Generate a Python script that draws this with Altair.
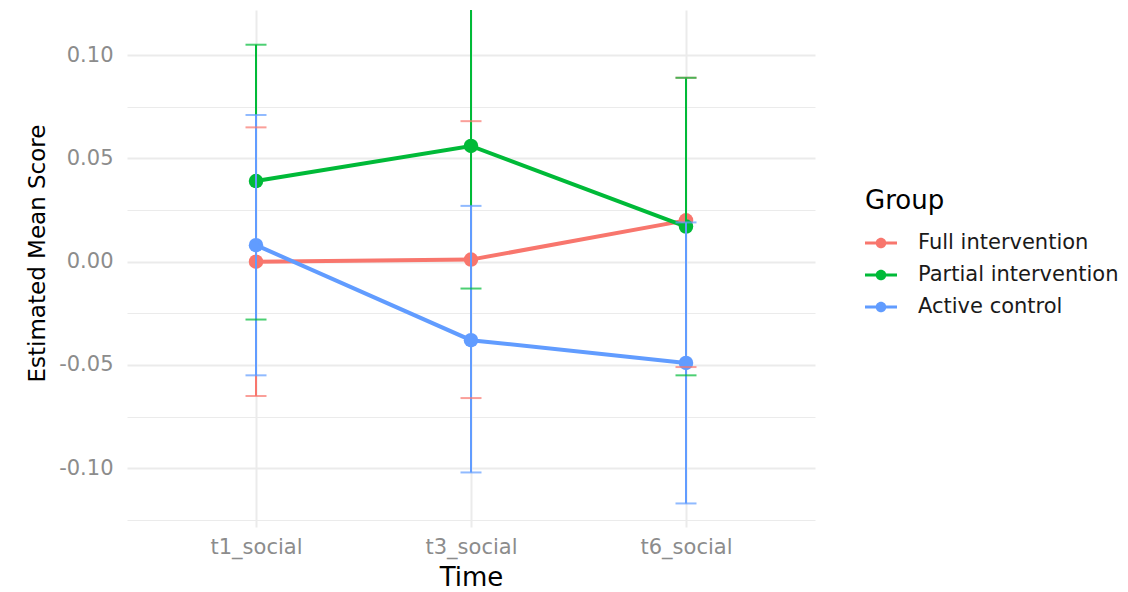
import altair as alt
import pandas as pd

times = ["t1_social", "t3_social", "t6_social"]
groups = ["Full intervention", "Partial intervention", "Active control"]
colors = ["#F8766D", "#00BA38", "#619CFF"]

full_mean = [0.000, 0.001, 0.020]
full_low = [-0.065, -0.066, -0.051]
full_high = [0.065, 0.068, 0.089]

partial_mean = [0.039, 0.056, 0.017]
partial_low = [-0.028, -0.013, -0.055]
partial_high = [0.105, 0.125, 0.089]

control_mean = [0.008, -0.038, -0.049]
control_low = [-0.055, -0.102, -0.117]
control_high = [0.071, 0.027, 0.019]

y_ticks = [-0.125, -0.1, -0.075, -0.05, -0.025, 0.0, 0.025, 0.05, 0.075, 0.1]

rows = []
for g, ms, los, his in zip(groups,
                           [full_mean, partial_mean, control_mean],
                           [full_low, partial_low, control_low],
                           [full_high, partial_high, control_high]):
    for t, m, lo, hi in zip(times, ms, los, his):
        rows.append({"Time": t, "Group": g, "mean": m, "low": lo, "high": hi})
df = pd.DataFrame(rows)

FONT = "DejaVu Sans"
YMIN, YMAX = -0.1284, 0.1218

major_test = "abs(datum.value*20 - round(datum.value*20)) < 0.001"

x_enc = alt.X(
    "Time:N",
    scale=alt.Scale(type="point", domain=times, padding=0.6),
    axis=alt.Axis(
        title="Time", grid=True, gridColor="#ebebeb", gridWidth=2,
        domain=False, ticks=False, tickSize=0, labelAngle=0,
        labelColor="#8c8c8c", labelFontSize=21, labelFont=FONT,
        labelPadding=9, titleFont=FONT, titleFontSize=26,
        titleFontWeight="normal", titleColor="#000000",
        titleBaseline="alphabetic", titleY=58,
    ),
)

y_scale = alt.Scale(domain=[YMIN, YMAX], nice=False, zero=False)
y_axis = alt.Axis(
    title="Estimated Mean Score", values=y_ticks,
    labelExpr=f"{major_test} ? ((datum.value < -0.0001 ? '-' : '') + format(abs(datum.value), '.2f')) : ''",
    grid=True, gridColor="#ebebeb",
    gridWidth={"condition": {"test": major_test, "value": 2}, "value": 1.2},
    domain=False, ticks=False, tickSize=0,
    labelColor="#8c8c8c", labelFontSize=21, labelFont=FONT, labelPadding=14,
    titleFont=FONT, titleFontSize=23, titleFontWeight="normal", titleColor="#000000",
    titleBaseline="alphabetic", titleX=-83, titleY=243, titleAlign="center", titleAngle=270,
)

legend_path = ("M-1,-0.09L1,-0.09L1,0.09L-1,0.09Z "
               "M0.33,0A0.33,0.33,0,1,1,-0.33,0A0.33,0.33,0,1,1,0.33,0Z")

color_scale = alt.Scale(domain=groups, range=colors)
color_leg = alt.Color(
    "Group:N",
    scale=color_scale,
    legend=alt.Legend(
        title="Group", orient="none", legendX=738, legendY=178,
        symbolType=legend_path, symbolSize=1024, labelOffset=21,
        symbolStrokeWidth=0, symbolOpacity=1, labelLimit=400,
        labelFont=FONT, labelFontSize=21, labelColor="#1a1a1a",
        titleFont=FONT, titleFontSize=26, titleFontWeight="normal",
        titleColor="#000000", titlePadding=13, rowPadding=6,
    ),
)

base = alt.Chart(df)

points = base.mark_point(filled=True, size=210, opacity=1, clip=True).encode(
    x=x_enc, y=alt.Y("mean:Q", scale=y_scale, axis=y_axis), color=color_leg,
)
lines = base.mark_line(strokeWidth=4, clip=True).encode(
    x=x_enc, y=alt.Y("mean:Q", scale=y_scale), color=color_leg,
    detail="Group:N",
)
rules = base.mark_rule(strokeWidth=2, clip=True).encode(
    x=x_enc, y=alt.Y("low:Q", scale=y_scale), y2="high:Q", color=color_leg,
)
caps_low = base.mark_tick(size=21, thickness=2, clip=True).encode(
    x=x_enc, y=alt.Y("low:Q", scale=y_scale), color=color_leg,
)
caps_high = base.mark_tick(size=21, thickness=2, clip=True).encode(
    x=x_enc, y=alt.Y("high:Q", scale=y_scale), color=color_leg,
)

chart = alt.layer(points, lines, rules, caps_low, caps_high).properties(
    width=688, height=517,
    background="white",
    autosize=alt.AutoSizeParams(type="none"),
    padding={"left": 119, "top": 2, "right": 305, "bottom": 65},
).configure_view(stroke=None)

chart.save("out.html", embed_options={"renderer": "svg", "actions": False})
